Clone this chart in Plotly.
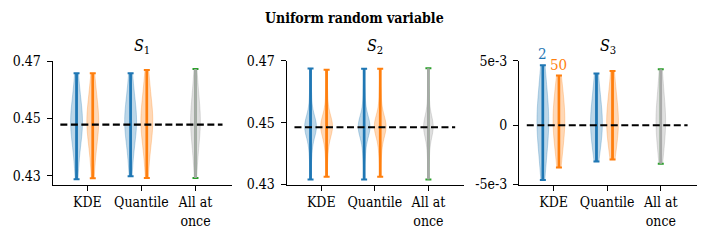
import plotly.graph_objects as go

# ---------------- data ----------------
categories = ["KDE", "Quantile", "All at<br>once"]
panel_titles = ["<i>S</i><sub>1</sub>", "<i>S</i><sub>2</sub>", "<i>S</i><sub>3</sub>"]
suptitle = "<b>Uniform random variable</b>"
legend_labels = ["2", "50"]

ref_values = [0.4479, 0.4485, 0.0]

# Panel 1 (S1)
s1_kde_2 = [0.4289, 0.4352, 0.4391, 0.4420, 0.4442, 0.4460, 0.4474, 0.4487, 0.4500, 0.4514, 0.4531, 0.4552, 0.4580, 0.4615, 0.4657]
s1_kde_50 = [0.4292, 0.4355, 0.4393, 0.4421, 0.4444, 0.4461, 0.4476, 0.4489, 0.4502, 0.4516, 0.4533, 0.4554, 0.4582, 0.4616, 0.4657]
s1_q_2 = [0.4299, 0.4360, 0.4396, 0.4424, 0.4446, 0.4463, 0.4477, 0.4490, 0.4503, 0.4517, 0.4534, 0.4555, 0.4583, 0.4617, 0.4657]
s1_q_50 = [0.4293, 0.4356, 0.4394, 0.4423, 0.4445, 0.4463, 0.4478, 0.4491, 0.4505, 0.4520, 0.4538, 0.4560, 0.4589, 0.4625, 0.4669]
s1_all = [0.4293, 0.4356, 0.4394, 0.4422, 0.4445, 0.4463, 0.4478, 0.4491, 0.4505, 0.4520, 0.4538, 0.4561, 0.4590, 0.4627, 0.4672]

# Panel 2 (S2)
s2_kde_2 = [0.4316, 0.4385, 0.4425, 0.4452, 0.4467, 0.4476, 0.4482, 0.4487, 0.4492, 0.4498, 0.4507, 0.4522, 0.4550, 0.4600, 0.4675]
s2_kde_50 = [0.4325, 0.4390, 0.4428, 0.4453, 0.4468, 0.4477, 0.4483, 0.4488, 0.4493, 0.4499, 0.4508, 0.4523, 0.4551, 0.4600, 0.4671]
s2_q_2 = [0.4316, 0.4386, 0.4426, 0.4452, 0.4467, 0.4476, 0.4482, 0.4487, 0.4492, 0.4498, 0.4507, 0.4522, 0.4551, 0.4601, 0.4674]
s2_q_50 = [0.4325, 0.4390, 0.4428, 0.4453, 0.4468, 0.4477, 0.4483, 0.4488, 0.4493, 0.4499, 0.4508, 0.4523, 0.4551, 0.4601, 0.4674]
s2_all = [0.4316, 0.4386, 0.4426, 0.4452, 0.4467, 0.4476, 0.4482, 0.4487, 0.4492, 0.4498, 0.4507, 0.4522, 0.4551, 0.4601, 0.4676]

# Panel 3 (S3)
s3_kde_2 = [-0.00425, -0.0030, -0.0021, -0.0014, -0.0008, -0.0003, 0.0001, 0.0005, 0.0009, 0.0014, 0.0020, 0.0027, 0.0036, 0.00464]
s3_kde_50 = [-0.00327, -0.0022, -0.0015, -0.0009, -0.0004, 0.0000, 0.0004, 0.0008, 0.0012, 0.0017, 0.0023, 0.0030, 0.00386]
s3_q_2 = [-0.0028, -0.0019, -0.0013, -0.0008, -0.0004, 0.0000, 0.0003, 0.0007, 0.0011, 0.0016, 0.0022, 0.0030, 0.0040]
s3_q_50 = [-0.00265, -0.0018, -0.0012, -0.0007, -0.0003, 0.0001, 0.0004, 0.0008, 0.0012, 0.0017, 0.0023, 0.0031, 0.0042]
s3_all = [-0.00299, -0.0020, -0.0013, -0.0008, -0.0003, 0.0001, 0.0004, 0.0008, 0.0012, 0.0017, 0.0024, 0.0032, 0.00433]

y_ticks = [[0.43, 0.45, 0.47], [0.43, 0.45, 0.47], [-0.00459, 0.0, 0.005]]
y_ticktext = [["0.43", "0.45", "0.47"], ["0.43", "0.45", "0.47"], ["-5e-3", "0", "5e-3"]]
y_ranges = [[0.42704, 0.4701], [0.43, 0.4700], [-0.00459, 0.005]]

panels = [
    (s1_kde_2, s1_kde_50, s1_q_2, s1_q_50, s1_all),
    (s2_kde_2, s2_kde_50, s2_q_2, s2_q_50, s2_all),
    (s3_kde_2, s3_kde_50, s3_q_2, s3_q_50, s3_all),
]

# ---------------- style ----------------
W, H = 708, 241
FONT = "DejaVu Serif Condensed, DejaVu Serif"
TICK_SIZE = 14
BLUE, ORANGE, GREEN, GRAY = "#1f77b4", "#ff7f0e", "#2ca02c", "#a9a9a9"
FILL = {"b": "rgba(31,119,180,0.3)", "o": "rgba(255,127,14,0.3)", "g": "rgba(128,128,128,0.25)"}
off_2, off_50 = -0.2, 0.1
x_px = [(52.5, 231.7), (286.7, 464.3), (519.0, 696.7)]
y_px = (60.7, 184.5)
x_range = [-0.645, 2.67]

fig = go.Figure()


def add_violin(vals, x, fillc, linec, barc, capc, ax, width):
    xa, ya = ("x" if ax == 1 else f"x{ax}"), ("y" if ax == 1 else f"y{ax}")
    fig.add_trace(go.Violin(
        x=[x] * len(vals), y=vals, xaxis=xa, yaxis=ya, width=width,
        fillcolor=fillc, line=dict(color=linec, width=0.8), points=False,
        spanmode="hard", showlegend=False, hoverinfo="skip", meanline_visible=False,
    ))
    lo, hi = min(vals), max(vals)
    fig.add_trace(go.Scatter(
        x=[x], y=[lo], mode="markers", marker=dict(size=0.1, color=capc), xaxis=xa, yaxis=ya,
        error_y=dict(type="data", symmetric=False, array=[hi - lo], arrayminus=[0],
                     color=capc, thickness=2.0, width=3),
        showlegend=False, hoverinfo="skip"))
    fig.add_trace(go.Scatter(
        x=[x], y=[lo], mode="markers", marker=dict(size=0.1, color=barc), xaxis=xa, yaxis=ya,
        error_y=dict(type="data", symmetric=False, array=[hi - lo], arrayminus=[0],
                     color=barc, thickness=2.6, width=0),
        showlegend=False, hoverinfo="skip"))


for k, (kde2, kde50, q2, q50, al) in enumerate(panels):
    ax = k + 1
    add_violin(kde2, 0 + off_2, FILL["b"], "rgba(31,119,180,0.35)", BLUE, BLUE, ax, 0.22)
    add_violin(kde50, 0 + off_50, FILL["o"], "rgba(255,127,14,0.35)", ORANGE, ORANGE, ax, 0.22)
    add_violin(q2, 1 + off_2, FILL["b"], "rgba(31,119,180,0.35)", BLUE, BLUE, ax, 0.22)
    add_violin(q50, 1 + off_50, FILL["o"], "rgba(255,127,14,0.35)", ORANGE, ORANGE, ax, 0.22)
    add_violin(al, 2, FILL["g"], "rgba(128,128,128,0.3)", GRAY, GREEN, ax, 0.18)
    xa, ya = ("x" if ax == 1 else f"x{ax}"), ("y" if ax == 1 else f"y{ax}")
    fig.add_trace(go.Scatter(
        x=[-0.5, 2.5], y=[ref_values[k]] * 2, mode="lines", xaxis=xa, yaxis=ya,
        line=dict(color="black", width=2.2, dash="7px,3.5px"), showlegend=False, hoverinfo="skip"))

    xd = [x_px[k][0] / W, x_px[k][1] / W]
    yd = [1 - y_px[1] / H, 1 - y_px[0] / H]
    eps = (y_ranges[k][1] - y_ranges[k][0]) * 1e-4
    axis_common = dict(showline=True, linecolor="black", linewidth=1, ticks="outside", ticklen=5,
                       tickwidth=1, tickcolor="black", showgrid=False, zeroline=False,
                       automargin=False, tickangle=0,
                       tickfont=dict(family=FONT, size=TICK_SIZE, color="black"))
    fig.layout[f"xaxis{'' if ax == 1 else ax}"] = dict(
        domain=xd, range=x_range, tickmode="array", tickvals=[0, 1, 2], ticktext=categories,
        anchor=ya, fixedrange=True, **axis_common)
    fig.layout[f"yaxis{'' if ax == 1 else ax}"] = dict(
        domain=yd, range=[y_ranges[k][0] - eps, y_ranges[k][1] + eps], tickmode="array",
        tickvals=y_ticks[k], ticktext=y_ticktext[k], anchor=xa, fixedrange=True,
        ticklabelstandoff=3, **axis_common)
    fig.add_annotation(text=panel_titles[k], xref="paper", yref="paper",
                       x=(xd[0] + xd[1]) / 2, y=1 - 46 / H, xanchor="center", yanchor="middle",
                       showarrow=False, font=dict(family=FONT, size=16, color="black"))

fig.add_annotation(text=legend_labels[0], xref="x3", yref="y3", x=0 + off_2, y=max(s3_kde_2),
                   xanchor="center", yanchor="bottom", yshift=0, showarrow=False,
                   font=dict(family=FONT, size=15, color=BLUE))
fig.add_annotation(text=legend_labels[1], xref="x3", yref="y3", x=0 + off_50, y=max(s3_kde_50),
                   xanchor="center", yanchor="bottom", yshift=-1, showarrow=False,
                   font=dict(family=FONT, size=15, color=ORANGE))

fig.add_annotation(text=suptitle, xref="paper", yref="paper", x=354 / W, y=1 - 18.5 / H,
                   xanchor="center", yanchor="middle", showarrow=False,
                   font=dict(family=FONT, size=14, color="black"))

fig.update_layout(width=W, height=H, margin=dict(l=0, r=0, t=0, b=0),
                  paper_bgcolor="white", plot_bgcolor="white", violinmode="overlay",
                  font=dict(family=FONT))

fig.write_html("out.html", config={"displayModeBar": False},
               post_script="document.body.style.margin='0px';")
